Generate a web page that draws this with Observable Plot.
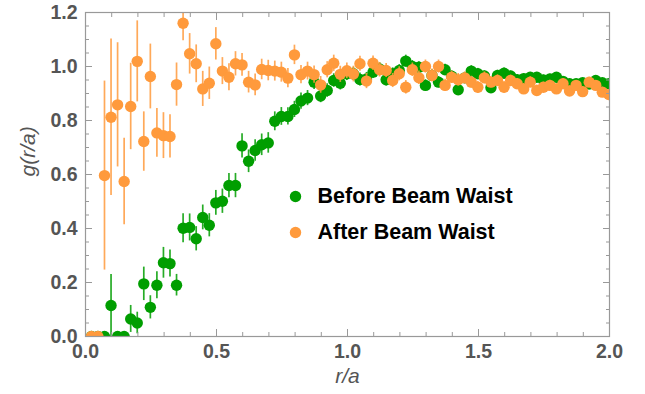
<!DOCTYPE html>
<html>
<head>
<meta charset="utf-8">
<script src="https://cdn.jsdelivr.net/npm/d3@7"></script>
<script src="https://cdn.jsdelivr.net/npm/@observablehq/plot@0.6"></script>
<style>
  html, body { margin: 0; padding: 0; background: #fff; }
  #chart { width: 645px; height: 394px; }
</style>
</head>
<body>
<div id="chart"></div>
<script>
// r/a bin positions
const r = [
  0.0225,0.0475,0.0725,0.0975,0.1225,0.1475,0.1725,0.1975,0.2225,0.2475,
  0.2725,0.2975,0.3225,0.3475,0.3725,0.3975,0.4225,0.4475,0.4725,0.4975,
  0.5225,0.5475,0.5725,0.5975,0.6225,0.6475,0.6725,0.6975,0.7225,0.7475,
  0.7725,0.7975,0.8225,0.8475,0.8725,0.8975,0.9225,0.9475,0.9725,0.9975,
  1.0225,1.0475,1.0725,1.0975,1.1225,1.1475,1.1725,1.1975,1.2225,1.2475,
  1.2725,1.2975,1.3225,1.3475,1.3725,1.3975,1.4225,1.4475,1.4725,1.4975,
  1.5225,1.5475,1.5725,1.5975,1.6225,1.6475,1.6725,1.6975,1.7225,1.7475,
  1.7725,1.7975,1.8225,1.8475,1.8725,1.8975,1.9225,1.9475,1.9725,1.9975
];
// Before Beam Waist
const gBefore = [
  0,0,0,0.115,0,0,0.065,0.05,0.195,0.108,
  0.19,0.273,0.27,0.19,0.401,0.404,0.362,0.441,0.412,0.495,
  0.501,0.559,0.559,0.706,0.649,0.689,0.710,0.717,0.797,0.815,
  0.815,0.841,0.872,0.883,0.942,0.891,0.911,0.948,0.938,0.973,
  0.973,0.952,0.954,0.979,0.991,0.951,0.973,0.985,1.020,1.0,
  0.997,0.930,0.967,0.942,0.988,0.964,0.914,0.958,0.983,0.973,
  0.965,0.921,0.967,0.975,0.965,0.951,0.955,0.960,0.960,0.950,
  0.954,0.960,0.945,0.936,0.936,0.940,0.935,0.948,0.940,0.936
];
const errBefore = [
  0,0,0,0.115,0,0,0.05,0.04,0.062,0.043,
  0.05,0.057,0.05,0.04,0.054,0.05,0.045,0.046,0.043,0.046,
  0.045,0.045,0.045,0.045,0.042,0.04,0.04,0.038,0.035,0.033,
  0.032,0.03,0.03,0.028,0.027,0.025,0.025,0.025,0.025,0.025,
  0.024,0.024,0.024,0.023,0.023,0.023,0.022,0.022,0.022,0.022,
  0.021,0.021,0.021,0.021,0.02,0.02,0.02,0.02,0.02,0.02,
  0.019,0.019,0.019,0.019,0.018,0.018,0.018,0.018,0.018,0.018,
  0.017,0.017,0.017,0.017,0.017,0.016,0.016,0.016,0.016,0.016
];
// After Beam Waist
const gAfter = [
  0,0,0.596,0.812,0.858,0.574,0.852,1.019,0.722,0.963,
  0.754,0.744,0.741,0.933,1.160,1.047,1.010,0.917,0.938,1.084,
  0.983,0.960,1.010,1.006,0.942,0.932,0.989,0.985,0.983,0.979,
  0.957,1.043,0.970,0.983,0.970,0.932,0.988,1.012,0.971,0.984,
  0.972,1.010,0.946,1.012,0.988,0.985,0.948,0.973,0.923,0.988,
  0.958,1.0,0.967,1.0,0.930,0.960,0.951,0.958,0.942,0.923,
  0.958,0.942,0.948,0.923,0.948,0.936,0.917,0.942,0.911,0.923,
  0.930,0.917,0.936,0.909,0.930,0.907,0.942,0.930,0.905,0.896
];
const errAfter = [
  0,0,0.35,0.29,0.23,0.16,0.16,0.15,0.11,0.12,
  0.09,0.085,0.08,0.08,0.065,0.075,0.07,0.065,0.06,0.06,
  0.05,0.05,0.045,0.042,0.04,0.04,0.038,0.038,0.037,0.037,
  0.036,0.036,0.034,0.033,0.032,0.031,0.03,0.03,0.03,0.029,
  0.029,0.028,0.028,0.027,0.027,0.026,0.026,0.026,0.025,0.025,
  0.025,0.024,0.024,0.024,0.023,0.023,0.023,0.022,0.022,0.022,
  0.022,0.021,0.021,0.021,0.02,0.02,0.02,0.02,0.02,0.019,
  0.019,0.019,0.019,0.019,0.018,0.018,0.018,0.018,0.018,0.018
];
const seriesNames = ["Before Beam Waist", "After Beam Waist"];
const seriesColors = ["#009e00", "#ff9a3c"];
const xMajor = [0, 0.5, 1.0, 1.5, 2.0];
const xMinor = [0.1,0.2,0.3,0.4,0.6,0.7,0.8,0.9,1.1,1.2,1.3,1.4,1.6,1.7,1.8,1.9];
const yMajor = [0, 0.2, 0.4, 0.6, 0.8, 1.0, 1.2];
const yMinor = [0.05,0.1,0.15,0.25,0.3,0.35,0.45,0.5,0.55,0.65,0.7,0.75,0.85,0.9,0.95,1.05,1.1,1.15];

const before = r.map((x, i) => ({x, y: gBefore[i], e: errBefore[i]}));
const after = r.map((x, i) => ({x, y: gAfter[i], e: errAfter[i]}));

const axisGray = "#999999";
const labelGray = "#555555";
const font = "'Liberation Sans', Arial, sans-serif";

const tickMarks = [];
for (const anchor of ["bottom", "top"]) {
  tickMarks.push(Plot.axisX(xMajor, {anchor, tickSize: -7, text: null, stroke: axisGray, label: null}));
  tickMarks.push(Plot.axisX(xMinor, {anchor, tickSize: -4, text: null, stroke: axisGray, label: null}));
}
for (const anchor of ["left", "right"]) {
  tickMarks.push(Plot.axisY(yMajor, {anchor, tickSize: -7, text: null, stroke: axisGray, label: null}));
  tickMarks.push(Plot.axisY(yMinor, {anchor, tickSize: -4, text: null, stroke: axisGray, label: null}));
}

const errRule = (data, color) => Plot.ruleX(data.filter(d => d.e > 0), {
  x: "x", y1: d => d.y - d.e, y2: d => d.y + d.e,
  stroke: color, strokeWidth: 1.7, strokeOpacity: 0.85, clip: true
});
const dots = (data, color) => Plot.dot(data, {
  x: "x", y: "y", r: 5.7, fill: color, stroke: null, clip: true
});

const chart = Plot.plot({
  width: 645,
  height: 394,
  marginLeft: 85,
  marginRight: 36,
  marginTop: 12,
  marginBottom: 58,
  style: {fontFamily: font, background: "#fff"},
  x: {domain: [0, 2]},
  y: {domain: [0, 1.2]},
  marks: [
    errRule(before, seriesColors[0]),
    dots(before, seriesColors[0]),
    errRule(after, seriesColors[1]),
    dots(after, seriesColors[1]),
    Plot.frame({stroke: axisGray, strokeWidth: 1.2}),
    ...tickMarks,
    Plot.axisX(xMajor, {anchor: "bottom", tickSize: 0, tickPadding: 8, tickFormat: d3.format(".1f"),
      fontSize: 19.5, fontWeight: "bold", fill: labelGray, label: null}),
    Plot.axisY(yMajor, {anchor: "left", tickSize: 0, tickPadding: 8, tickFormat: d3.format(".1f"),
      fontSize: 19.5, fontWeight: "bold", fill: labelGray, label: null}),
    Plot.text(["r/a"], {frameAnchor: "bottom", dy: 46, text: d => d, fontSize: 21,
      fontStyle: "italic", fill: labelGray}),
    Plot.text(["g(r/a)"], {frameAnchor: "left", dx: -57, dy: 2, rotate: -90, text: d => d, fontSize: 21,
      fontStyle: "italic", fill: labelGray}),
    // legend
    Plot.dot([seriesNames[0]], {frameAnchor: "top-left", dx: 210, dy: 184, r: 5.7, fill: seriesColors[0]}),
    Plot.text([seriesNames[0]], {frameAnchor: "top-left", dx: 232, dy: 184, lineAnchor: "middle",
      text: d => d, textAnchor: "start", fontSize: 21.5, fontWeight: "bold", fill: "#000"}),
    Plot.dot([seriesNames[1]], {frameAnchor: "top-left", dx: 210, dy: 220, r: 5.7, fill: seriesColors[1]}),
    Plot.text([seriesNames[1]], {frameAnchor: "top-left", dx: 232, dy: 220, lineAnchor: "middle",
      text: d => d, textAnchor: "start", fontSize: 21.5, fontWeight: "bold", fill: "#000"})
  ]
});
document.getElementById("chart").appendChild(chart);
</script>
</body>
</html>
